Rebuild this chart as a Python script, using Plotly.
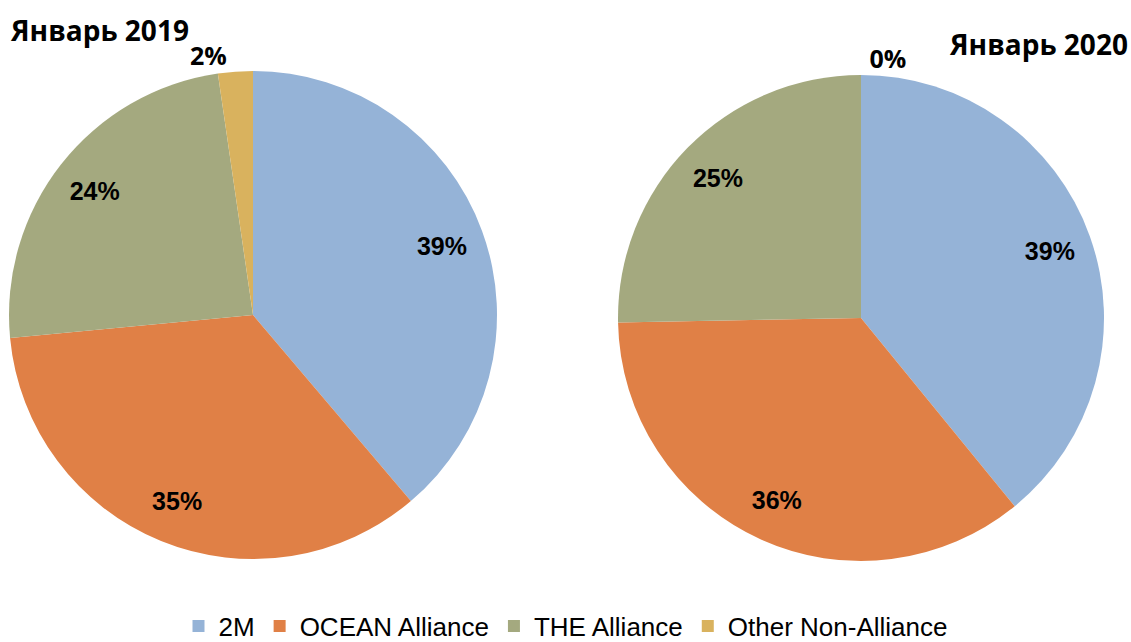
import plotly.graph_objects as go

labels = ["2M", "OCEAN Alliance", "THE Alliance", "Other Non-Alliance"]
values_2019 = [38.8, 34.7, 24.2, 2.3]
values_2020 = [39.1, 35.6, 25.3, 0.0]
titles = ["Январь 2019", "Январь 2020"]
colors = ["#95B3D7", "#E08046", "#A4A97F", "#D9B25E"]

label_font = dict(family="Liberation Sans, Arial", size=25, color="#000000")
outer_font = dict(family="Open Sans", size=25, color="#000000")

domains = [
    dict(x=[9/1131, 497/1131], y=[1-559/642, 1-71/642]),
    dict(x=[618/1131, 1104/1131], y=[1-561/642, 1-75/642]),
]

fig = go.Figure()
for i, vals in enumerate([values_2019, values_2020]):
    # coloured pie
    fig.add_trace(go.Pie(
        labels=labels, values=vals, sort=False, direction="clockwise", rotation=0,
        marker=dict(colors=colors, line=dict(width=0)),
        textinfo="none", domain=domains[i], showlegend=(i == 0),
        hoverinfo="label+percent",
    ))
    # transparent ring carrying the percentage labels
    fig.add_trace(go.Pie(
        labels=labels, values=vals, sort=False, direction="clockwise", rotation=0,
        hole=0.65,
        marker=dict(colors=["rgba(0,0,0,0)"] * 4, line=dict(width=0)),
        texttemplate="<b>%{percent:.0%}</b>",
        textposition=["inside", "inside", "inside", "outside"],
        insidetextorientation="horizontal",
        textfont=label_font, insidetextfont=label_font, outsidetextfont=outer_font,
        domain=domains[i], showlegend=False, hoverinfo="skip",
    ))

fig.add_annotation(text="<b>" + titles[0] + "</b>", x=8/1131, y=1-30/642, xref="paper", yref="paper",
                   xanchor="left", yanchor="middle", showarrow=False,
                   font=dict(family="Open Sans", size=28, color="#000000"))
fig.add_annotation(text="<b>" + titles[1] + "</b>", x=1130/1131, y=1-44/642, xref="paper", yref="paper",
                   xanchor="right", yanchor="middle", showarrow=False,
                   font=dict(family="Open Sans", size=28, color="#000000"))

fig.update_layout(
    width=1131, height=642, margin=dict(l=0, r=0, t=0, b=0, autoexpand=False),
    paper_bgcolor="white", plot_bgcolor="white",
    legend=dict(orientation="h", x=0.5, xanchor="center", y=1-626/642, yanchor="middle",
                font=dict(family="Liberation Sans, Arial", size=26, color="#000000"),
                traceorder="normal"),
)
fig.write_html("out.html")
